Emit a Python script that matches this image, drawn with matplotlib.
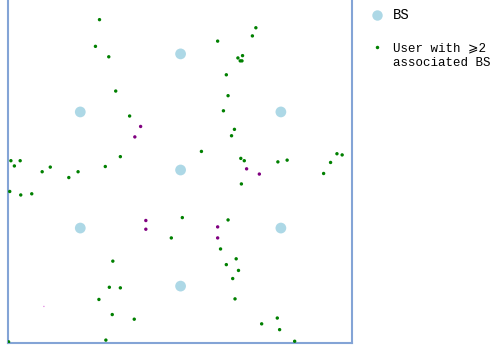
import matplotlib
matplotlib.use("Agg")
import matplotlib.pyplot as plt
from matplotlib.lines import Line2D

# Base stations: hexagonal layout, inter-site distance 200 m
bs_x = [0, 0, 173.2, 173.2, 0, -173.2, -173.2]
bs_y = [0, 200, 100, -100, -200, -100, 100]

# Users associated with at least two base stations
user2_x = [-140, -147, -124, -112, -88, -104, -130, -293, -277, -287, -239, -225,
           -177, 130, 124, 64, 107, 99, 103, 106, 79, 82, 74, 93, 88, 36, 104,
           110, 168, 184, 270, 279, 259, 247, -193, -295, -276, -257, -16, -117,
           -123, -104, -141, -118, -80, -129, -297, 105, 3, 82, 69, 96, 79, 100,
           90, 94, 167, 140, 171, 197]
user2_y = [259, 213, 195, 136, 93, 23, 6, 16, 16, 7, -3, 5, -3, 245, 231, 222,
           197, 193, 188, 188, 164, 128, 102, 70, 59, 32, 20, 16, 14, 17, 28, 26,
           13, -6, -13, -37, -43, -41, -117, -157, -202, -203, -223, -249, -257,
           -293, -296, -24, -82, -86, -136, -153, -163, -173, -187, -222, -255,
           -265, -275, -295]

# Users associated with more base stations
user3_x = [-69, -79, 114, 136, -60, -60, 64, 64]
user3_y = [75, 57, 2, -7, -87, -102, -98, -117]

# Isolated user
user1_x = [-236]
user1_y = [-235]

FONT = ["Liberation Mono", "DejaVu Sans Mono", "DejaVu Sans"]

fig = plt.figure(figsize=(4.96, 3.47), dpi=100)
ax = fig.add_axes([8 / 496, 4 / 347, 344 / 496, 346 / 347])

ax.scatter(bs_x, bs_y, s=60, c="#add8e6", edgecolors="none", zorder=2)
ax.scatter(user2_x, user2_y, s=6, c="#008000", edgecolors="none", zorder=3)
ax.scatter(user3_x, user3_y, s=6, c="#800080", edgecolors="none", zorder=3)
ax.scatter(user1_x, user1_y, s=1, c="#e080e0", edgecolors="none", zorder=3)

ax.set_xlim(-298, 296)
ax.set_ylim(-298, 298)
ax.set_xticks([])
ax.set_yticks([])
for sp in ax.spines.values():
    sp.set_color("#84a4d6")
    sp.set_linewidth(1.5)

handles = [
    Line2D([], [], ls="none", marker="o", ms=7.5, mfc="#add8e6", mec="none"),
    Line2D([], [], ls="none", marker="o", ms=2.5, mfc="#008000", mec="none"),
]
labels = ["BS", "User with \u2a7e2"]
leg = fig.legend(handles, labels, loc="upper left", bbox_to_anchor=(361 / 496, 1.0),
                 frameon=False, prop={"family": FONT, "size": 9},
                 handletextpad=0.7, labelspacing=1.6, borderaxespad=0.25, handlelength=1.2)
leg.get_texts()[0].set_fontsize(10)

# Second line of the user label, set directly under the first one
fig.canvas.draw()
bb = leg.get_texts()[1].get_window_extent()
x0, y0 = fig.transFigure.inverted().transform((bb.x0, bb.y0))
fig.text(x0, y0 - 3 / 347, "associated BS", family=FONT, size=9, va="top", ha="left")

fig.savefig("out.png", dpi=100)
